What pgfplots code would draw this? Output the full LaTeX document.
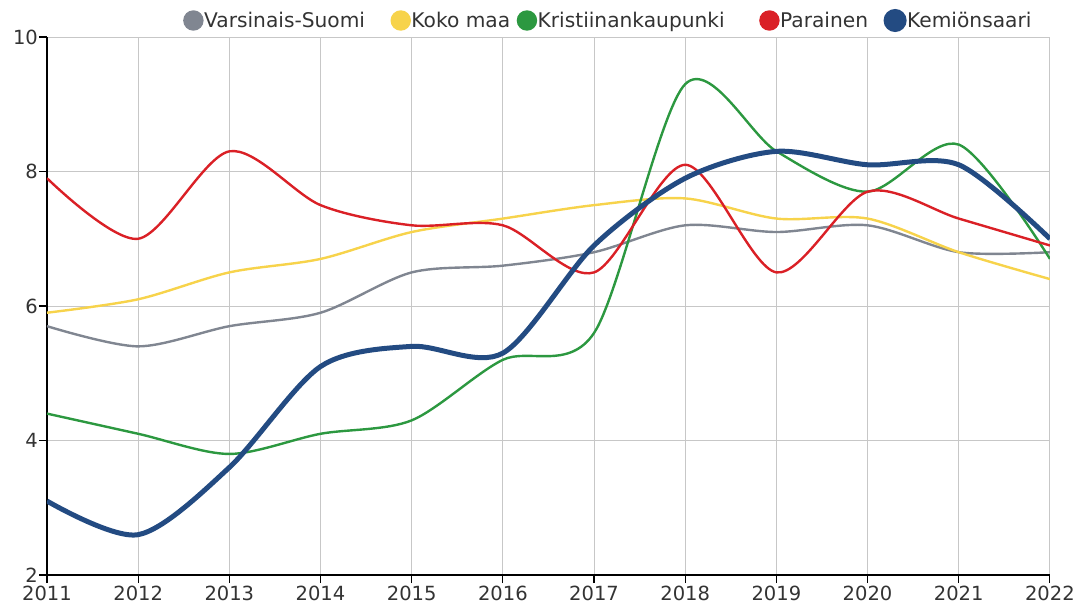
\documentclass[border=0pt]{standalone}
\usepackage{pgfplots}
\pgfplotsset{compat=1.18}
\usepackage{fontspec}
\setmainfont{DejaVu Sans}
\definecolor{cgray}{HTML}{808691}
\definecolor{cyellow}{HTML}{F7D34B}
\definecolor{cgreen}{HTML}{2C9840}
\definecolor{cred}{HTML}{DA2026}
\definecolor{cblue}{HTML}{234B82}
\begin{document}
\begin{tikzpicture}
\useasboundingbox (-47pt,-31pt) rectangle (1028pt,575pt);
\begin{axis}[
 scale only axis, width=1003pt, height=538pt,
 at={(0pt,0pt)}, anchor=south west,
 xmin=2011, xmax=2022, ymin=2, ymax=10,
 xtick={2011,2012,...,2022}, ytick={2,4,...,10},
 axis x line*=bottom, axis y line*=left,
 axis line style={black, line width=1.5pt, -},
 tick align=outside, major tick length=8pt,
 tick style={black, line width=1.2pt},
 grid=major, grid style={black!22, line width=0.9pt},
 font=\fontsize{19.5}{22}\selectfont,
 ticklabel style={font=\fontsize{19.5}{22}\selectfont, text=black!80},
 /pgf/number format/assume math mode=true,
 xticklabel style={/pgf/number format/1000 sep={}, inner sep=1pt, yshift=-2pt},
 yticklabel style={inner sep=1pt},
 legend columns=5,
 legend style={draw=none, fill=none, inner sep=0pt, at={(0.1356,1.0307)}, anchor=west,
   font=\fontsize{20.2}{23}\selectfont,
   /tikz/every even column/.append style={column sep=0pt},
   /tikz/every odd column/.append style={column sep=0pt},
   nodes={inner ysep=0pt, inner xsep=0.5pt, text=black!80}},
 legend image code/.code={\fill (9.2pt,0pt) circle (9pt);},
 every axis plot/.append style={smooth, no markers, line width=2.4pt},
]
\addplot[color=cgray] coordinates {(2011,5.7)(2012,5.4)(2013,5.7)(2014,5.9)(2015,6.5)(2016,6.6)(2017,6.8)(2018,7.2)(2019,7.1)(2020,7.2)(2021,6.8)(2022,6.8)};
\addlegendentry{Varsinais-Suomi\rule{25pt}{0pt}}
\addplot[color=cyellow] coordinates {(2011,5.9)(2012,6.1)(2013,6.5)(2014,6.7)(2015,7.1)(2016,7.3)(2017,7.5)(2018,7.6)(2019,7.3)(2020,7.3)(2021,6.8)(2022,6.4)};
\addlegendentry{Koko maa\rule{6pt}{0pt}}
\addplot[color=cgreen] coordinates {(2011,4.4)(2012,4.1)(2013,3.8)(2014,4.1)(2015,4.3)(2016,5.2)(2017,5.6)(2018,9.3)(2019,8.3)(2020,7.7)(2021,8.4)(2022,6.7)};
\addlegendentry{Kristiinankaupunki\rule{34pt}{0pt}}
\addplot[color=cred] coordinates {(2011,7.9)(2012,7.0)(2013,8.3)(2014,7.5)(2015,7.2)(2016,7.2)(2017,6.5)(2018,8.1)(2019,6.5)(2020,7.7)(2021,7.3)(2022,6.9)};
\addlegendentry{Parainen\rule{15pt}{0pt}}
\addplot[color=cblue, line width=5pt] coordinates {(2011,3.1)(2012,2.6)(2013,3.6)(2014,5.1)(2015,5.4)(2016,5.3)(2017,6.9)(2018,7.9)(2019,8.3)(2020,8.1)(2021,8.1)(2022,7.0)};
\addlegendentry{Kemiönsaari}
\end{axis}
\end{tikzpicture}
\end{document}
